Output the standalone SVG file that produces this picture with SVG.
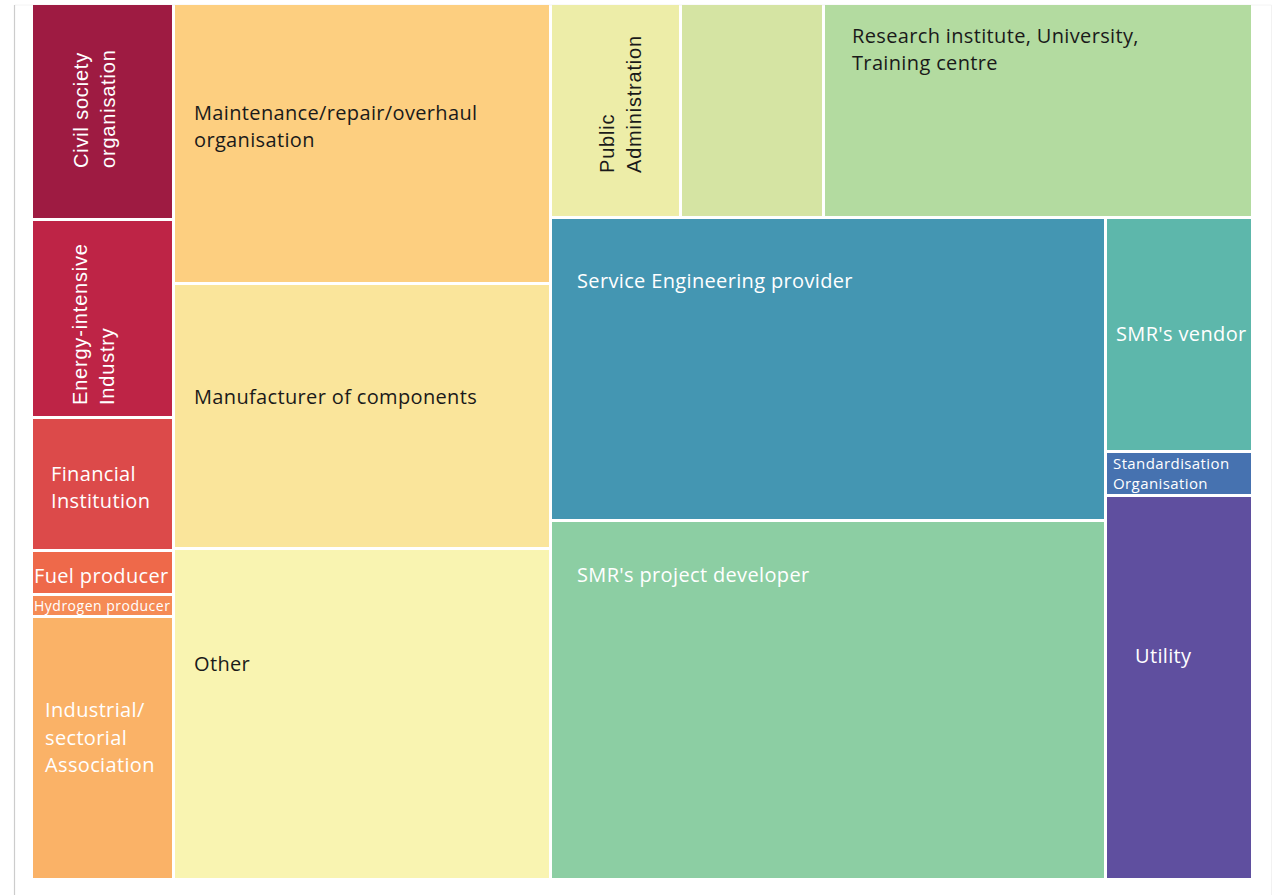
<svg xmlns="http://www.w3.org/2000/svg" width="1281" height="895" viewBox="0 0 1281 895">
<style>
.t{font-family:"Open Sans","Noto Sans",sans-serif;font-size:20px;letter-spacing:0.35px}
.r{font-family:"Liberation Sans",Arial,sans-serif;font-size:20px;letter-spacing:0.8px}
.w{fill:#ffffff}
.k{fill:#1a1a1a}
rect.c{stroke:none}
</style>
<rect x="0" y="0" width="1281" height="895" fill="#ffffff"/>
<line x1="1271.5" y1="5" x2="1271.5" y2="895" stroke="#f2f2f2" stroke-width="1"/>
<line x1="14.5" y1="5" x2="1271.5" y2="5" stroke="#f4f4f4" stroke-width="1"/>
<line x1="14.5" y1="5" x2="14.5" y2="895" stroke="#cccccc" stroke-width="1.2"/>
<g id="civil"><rect class="c" x="33" y="5" width="139" height="213" fill="#9E1B42"/>
<text class="r w" transform="translate(88,168) rotate(-90)">Civil society</text>
<text class="r w" transform="translate(115,168) rotate(-90)">organisation</text></g>
<g id="energy"><rect class="c" x="33" y="221" width="139" height="195" fill="#BE2446"/>
<text class="r w" transform="translate(87,405) rotate(-90)">Energy-intensive</text>
<text class="r w" transform="translate(114,405) rotate(-90)">Industry</text></g>
<g id="financial"><rect class="c" x="33" y="419" width="139" height="130" fill="#DC4A4A"/>
<text class="t w" x="51" y="481">Financial</text>
<text class="t w" x="51" y="508">Institution</text></g>
<g id="fuel"><rect class="c" x="33" y="552" width="139" height="41" fill="#EE694A"/>
<text class="t w" x="34" y="583">Fuel producer</text></g>
<g id="hydrogen"><rect class="c" x="33" y="596" width="139" height="19" fill="#F58B55"/>
<text class="t w" x="34" y="611" style="font-size:14px;letter-spacing:0.5px">Hydrogen producer</text></g>
<g id="industrial"><rect class="c" x="33" y="618" width="139" height="260" fill="#FAB267"/>
<text class="t w" x="45" y="717">Industrial/</text>
<text class="t w" x="45" y="745">sectorial</text>
<text class="t w" x="45" y="772">Association</text></g>
<g id="maintenance"><rect class="c" x="175" y="5" width="374" height="277" fill="#FDCF80"/>
<text class="t k" x="194" y="120">Maintenance/repair/overhaul</text>
<text class="t k" x="194" y="147">organisation</text></g>
<g id="manufacturer"><rect class="c" x="175" y="285" width="374" height="262" fill="#FAE59B"/>
<text class="t k" x="194" y="404">Manufacturer of components</text></g>
<g id="other"><rect class="c" x="175" y="550" width="374" height="328" fill="#F9F4B1"/>
<text class="t k" x="194" y="671">Other</text></g>
<g id="public"><rect class="c" x="552" y="5" width="127" height="211" fill="#EDEDA8"/>
<text class="r k" transform="translate(614,173) rotate(-90)">Public</text>
<text class="r k" transform="translate(641,173) rotate(-90)">Administration</text></g>
<g id="blank"><rect class="c" x="682" y="5" width="140" height="211" fill="#D5E4A3"/></g>
<g id="research"><rect class="c" x="825" y="5" width="426" height="211" fill="#B3DBA0"/>
<text class="t k" x="852" y="43">Research institute, University,</text>
<text class="t k" x="852" y="70">Training centre</text></g>
<g id="service"><rect class="c" x="552" y="219" width="552" height="300" fill="#4496B2"/>
<text class="t w" x="577" y="288">Service Engineering provider</text></g>
<g id="project"><rect class="c" x="552" y="522" width="552" height="356" fill="#8CCEA3"/>
<text class="t w" x="577" y="582">SMR's project developer</text></g>
<g id="vendor"><rect class="c" x="1107" y="219" width="144" height="231" fill="#5DB7AB"/>
<text class="t w" x="1116" y="341">SMR's vendor</text></g>
<g id="standard"><rect class="c" x="1107" y="453" width="144" height="41" fill="#4672B0"/>
<text class="t w" x="1113" y="469" style="font-size:15px;letter-spacing:0.4px">Standardisation</text>
<text class="t w" x="1113" y="489" style="font-size:15px;letter-spacing:0.4px">Organisation</text></g>
<g id="utility"><rect class="c" x="1107" y="497" width="144" height="381" fill="#5F4F9F"/>
<text class="t w" x="1135" y="663">Utility</text></g>
<g id="connectors"></g>
</svg>
